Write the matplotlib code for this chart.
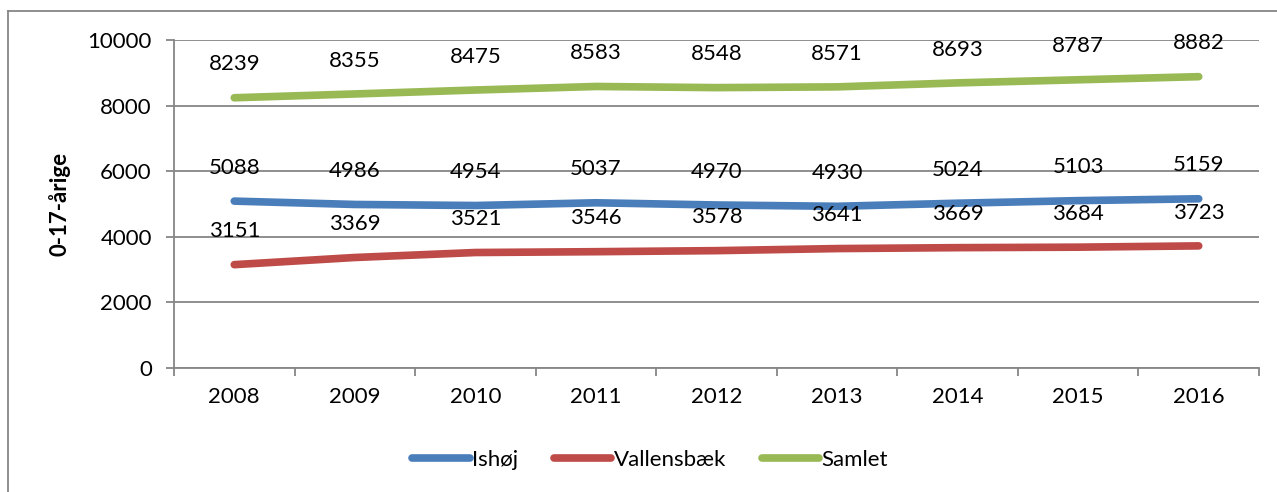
import matplotlib.pyplot as plt
from matplotlib.lines import Line2D

years = ["2008", "2009", "2010", "2011", "2012", "2013", "2014", "2015", "2016"]
ishoej = [5088, 4986, 4954, 5037, 4970, 4930, 5024, 5103, 5159]
vallensbaek = [3151, 3369, 3521, 3546, 3578, 3641, 3669, 3684, 3723]
samlet = [8239, 8355, 8475, 8583, 8548, 8571, 8693, 8787, 8882]

series = [
    ("Ishøj", ishoej, "#4a7ebb"),
    ("Vallensbæk", vallensbaek, "#be4b48"),
    ("Samlet", samlet, "#98b954"),
]

plt.rcParams["font.family"] = ["Lato", "DejaVu Sans"]

fig = plt.figure(figsize=(12.77, 4.92), dpi=100)
ax = fig.add_axes([174 / 1277, 1 - 368 / 492, (1259 - 174) / 1277, (368 - 40) / 492])

x = list(range(len(years)))
for name, vals, color in series:
    ax.plot(x, vals, color=color, lw=5.5, solid_capstyle="round", label=name)
    for xi, v in zip(x, vals):
        ax.annotate(str(v), (xi, v), xytext=(0, 24), textcoords="offset points",
                    ha="center", va="center", fontsize=16)

ax.set_xlim(-0.5, len(years) - 0.5)
ax.set_ylim(0, 10000)
ax.set_yticks(range(0, 10001, 2000))
ax.yaxis.grid(True, color="#868686", lw=1.3)
ax.set_axisbelow(True)
ax.set_xticks(x)
ax.set_xticklabels(years)
ax.set_xticks([i - 0.5 for i in range(len(years) + 1)], minor=True)
ax.tick_params(axis="x", which="major", length=0, pad=14, labelsize=16)
ax.tick_params(axis="x", which="minor", length=6, width=1.3, color="#868686", direction="out")
ax.tick_params(axis="y", length=6, width=1.3, color="#868686", pad=10, labelsize=16)

for side in ["top", "right"]:
    ax.spines[side].set_visible(False)
for side in ["left", "bottom"]:
    ax.spines[side].set_color("#868686")
    ax.spines[side].set_linewidth(1.3)

ax.set_ylabel("0-17-årige", fontsize=16, fontweight="bold", labelpad=12)

handles = [Line2D([], [], color=c, lw=5.5, solid_capstyle="round") for _, _, c in series]
fig.legend(handles, [n for n, _, _ in series], loc="center", bbox_to_anchor=(650 / 1277, 1 - 460 / 492),
           ncol=3, frameon=False, fontsize=16, handlelength=2.6, handletextpad=0.1, columnspacing=1.6)

# outer chart frame (only top and left visible in the reference crop)
fig.add_artist(Line2D([8 / 1277, 8 / 1277], [0, 1 - 11 / 492], transform=fig.transFigure, color="#868686", lw=1.3))
fig.add_artist(Line2D([8 / 1277, 1], [1 - 11 / 492, 1 - 11 / 492], transform=fig.transFigure, color="#868686", lw=1.3))

fig.savefig("out.png", dpi=100)
